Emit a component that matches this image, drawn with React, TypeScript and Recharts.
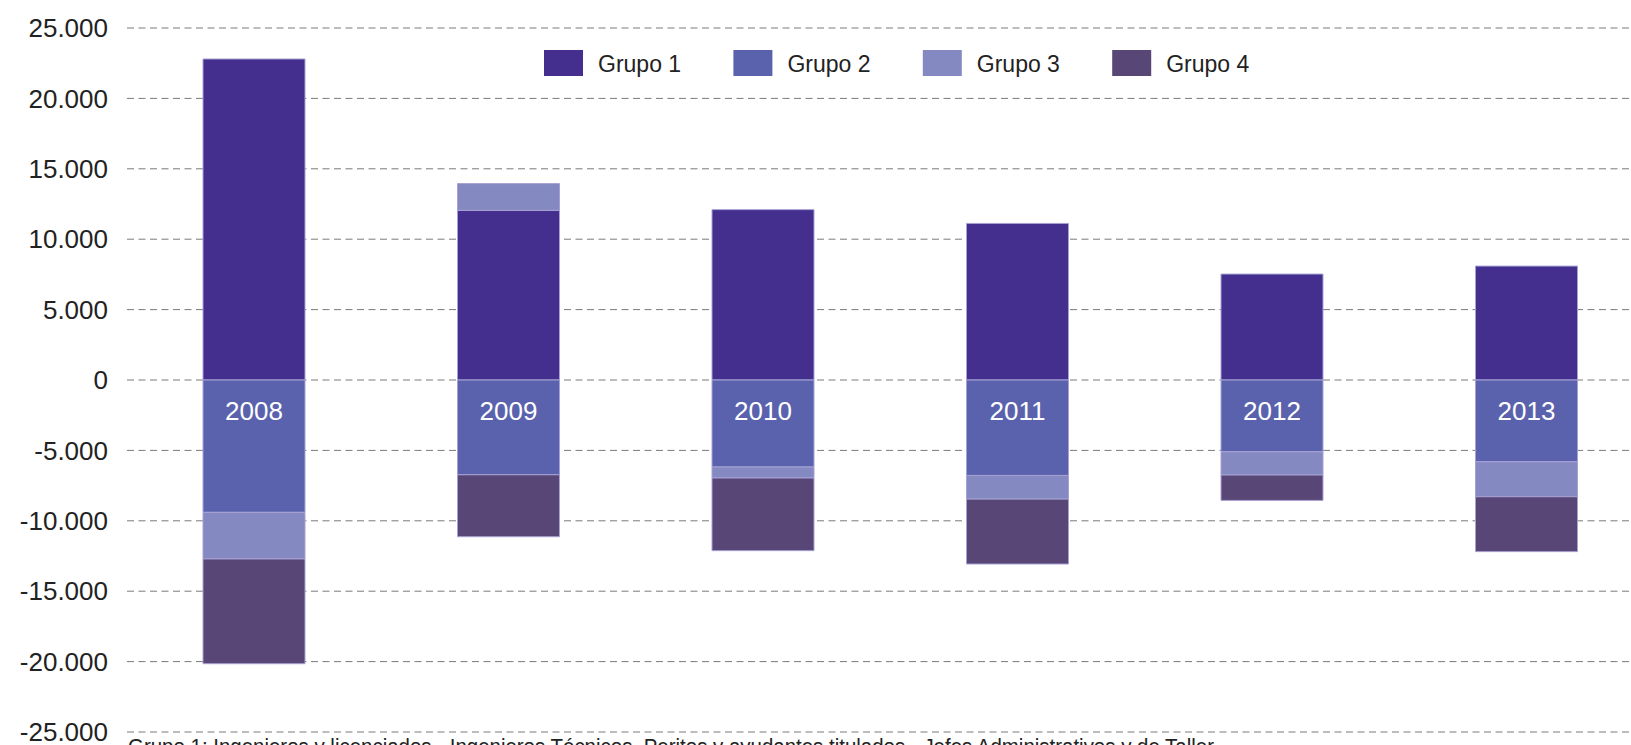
import React from 'react';
import { BarChart, Bar, XAxis, YAxis, CartesianGrid, Legend, LabelList } from 'recharts';

const years = ['2008', '2009', '2010', '2011', '2012', '2013'];
const grupo1 = [22800, 12050, 12100, 11120, 7525, 8090];
const grupo2 = [-9400, -6730, -6180, -6780, -5100, -5810];
const grupo3 = [-3310, 1900, -780, -1680, -1650, -2480];
const grupo4 = [-7440, -4400, -5160, -4610, -1800, -3900];
const yTicks = [-25000, -20000, -15000, -10000, -5000, 0, 5000, 10000, 15000, 20000, 25000];
const seriesNames = ['Grupo 1', 'Grupo 2', 'Grupo 3', 'Grupo 4'];
const seriesColors = ['#442f8f', '#5a62ad', '#8489c2', '#584677'];
const footnote = 'Grupo 1: Ingenieros y licenciados  -  Ingenieros Técnicos, Peritos y ayudantes titulados  -  Jefes Administrativos y de Taller';

const data = years.map((y, i) => ({
  year: y,
  g1: grupo1[i],
  g2: grupo2[i],
  g3: grupo3[i],
  g4: grupo4[i],
}));

const fmt = (v: number) => {
  if (v === 0) return '0';
  const s = Math.abs(v).toString().replace(/\B(?=(\d{3})+(?!\d))/g, '.');
  return (v < 0 ? '-' : '') + s;
};

const FONT = "'Liberation Sans', Arial, sans-serif";

const LegendContent = () => (
  <svg width={780} height={40} style={{ display: 'block' }}>
    {seriesNames.map((n, i) => (
      <g key={n} transform={`translate(${i * 189.4},0)`}>
        <rect x={0} y={7} width={39} height={26} fill={seriesColors[i]} />
        <text x={54} y={28.5} fontSize={23} fill="#222" fontFamily={FONT}>
          {n}
        </text>
      </g>
    ))}
  </svg>
);

const YearLabel = (props: any) => {
  const { x, y, width, height, value } = props;
  const top = Math.min(y, y + height);
  return (
    <text x={x + width / 2} y={top + 40} textAnchor="middle" fill="#ffffff" fontSize={26} fontFamily={FONT}>
      {value}
    </text>
  );
};

export default function App() {
  const barStroke = '#a7a2d4';
  return (
    <div style={{ position: 'absolute', left: 0, top: 0, width: 1631, height: 745, overflow: 'hidden', background: '#fff' }}>
      <BarChart
        width={1660}
        height={769}
        data={data}
        stackOffset="sign"
        margin={{ top: 28, right: 6, bottom: 37, left: 0 }}
      >
        <CartesianGrid vertical={false} stroke="#7a7a7a" strokeDasharray="7 4.5" />
        <XAxis dataKey="year" hide />
        <YAxis
          width={127}
          domain={[-25000, 25000]}
          ticks={yTicks}
          tickFormatter={fmt}
          axisLine={false}
          tickLine={false}
          tickSize={0}
          tickMargin={19}
          interval={0}
          tick={{ fontSize: 26, fill: '#222', fontFamily: FONT }}
        />
        <Legend
          layout="horizontal"
          verticalAlign="middle"
          align="center"
          content={<LegendContent />}
          wrapperStyle={{ position: 'absolute', left: 544, top: 43, width: 780 }}
        />
        <Bar dataKey="g1" name="Grupo 1" stackId="a" fill={seriesColors[0]} stroke={barStroke} strokeWidth={1} barSize={102} isAnimationActive={false} />
        <Bar dataKey="g2" name="Grupo 2" stackId="a" fill={seriesColors[1]} stroke={barStroke} strokeWidth={1} barSize={102} isAnimationActive={false}>
          <LabelList dataKey="year" content={<YearLabel />} />
        </Bar>
        <Bar dataKey="g3" name="Grupo 3" stackId="a" fill={seriesColors[2]} stroke={barStroke} strokeWidth={1} barSize={102} isAnimationActive={false} />
        <Bar dataKey="g4" name="Grupo 4" stackId="a" fill={seriesColors[3]} stroke={barStroke} strokeWidth={1} barSize={102} isAnimationActive={false} />
      </BarChart>
      <svg style={{ position: 'absolute', left: 0, top: 720 }} width={1631} height={50}>
        <text x={128} y={34} fontSize={22} fill="#222" fontFamily={FONT} textLength={1086} lengthAdjust="spacingAndGlyphs">
          {footnote}
        </text>
      </svg>
    </div>
  );
}
